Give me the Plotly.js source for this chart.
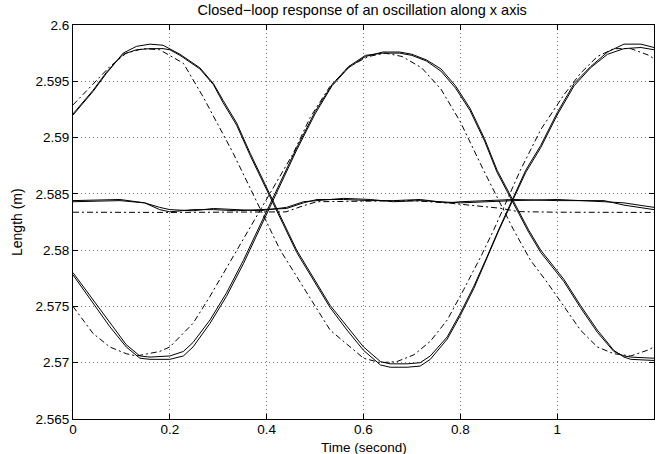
<!DOCTYPE html>
<html>
<head>
<meta charset="utf-8">
<script src="https://cdn.plot.ly/plotly-3.0.1.min.js"></script>
<style>html,body{margin:0;padding:0;background:#fff;}#chart{width:661px;height:454px;}</style>
</head>
<body>
<div id="chart"></div>
<script>
// Oscillation A (measured, two solid runs) and reference (dash-dot)
const tA = [0, 0.0414, 0.069, 0.1035, 0.131, 0.159, 0.186, 0.200, 0.221, 0.262, 0.290, 0.310, 0.338, 0.366, 0.462, 0.531, 0.566, 0.600, 0.635, 0.655, 0.690, 0.717, 0.738, 0.773, 0.800, 0.828, 0.855, 0.879, 0.935, 0.966, 1.000, 1.035, 1.069, 1.104, 1.138, 1.173, 1.200];
const vA1 = [2.5920, 2.5941, 2.5957, 2.5975, 2.5981, 2.5983, 2.5982, 2.5979, 2.5974, 2.5962, 2.5948, 2.5933, 2.5913, 2.5886, 2.5800, 2.5751, 2.5732, 2.5714, 2.5701, 2.5699, 2.5699, 2.5700, 2.5706, 2.5723, 2.5744, 2.5768, 2.5794, 2.5818, 2.5871, 2.5893, 2.5922, 2.5948, 2.5963, 2.5976, 2.5983, 2.5983, 2.5980];
const vA2 = [2.5921, 2.5942, 2.5958, 2.5974, 2.5978, 2.5979, 2.5979, 2.5978, 2.5973, 2.5961, 2.5947, 2.5931, 2.5911, 2.5884, 2.5798, 2.5749, 2.5729, 2.5711, 2.5698, 2.5696, 2.5696, 2.5697, 2.5703, 2.5721, 2.5742, 2.5766, 2.5793, 2.5817, 2.5869, 2.5891, 2.5920, 2.5946, 2.5962, 2.5974, 2.5979, 2.5980, 2.5978];
const tAd = [0, 0.0414, 0.076, 0.110, 0.145, 0.179, 0.228, 0.269, 0.331, 0.428, 0.531, 0.600, 0.635, 0.669, 0.704, 0.738, 0.773, 0.807, 0.842, 0.869, 0.924, 0.966, 1.014, 1.048, 1.083, 1.117, 1.152, 1.190, 1.200];
const vAd = [2.5929, 2.5948, 2.5963, 2.5975, 2.5979, 2.5978, 2.5966, 2.5936, 2.5886, 2.5800, 2.5729, 2.5704, 2.5700, 2.5701, 2.5707, 2.5719, 2.5738, 2.5765, 2.5794, 2.5818, 2.5871, 2.5907, 2.5938, 2.5957, 2.5972, 2.5979, 2.5979, 2.5973, 2.5970];

// Oscillation B
const tB = [0, 0.0414, 0.076, 0.110, 0.138, 0.159, 0.200, 0.228, 0.248, 0.283, 0.317, 0.352, 0.462, 0.500, 0.535, 0.569, 0.604, 0.640, 0.675, 0.700, 0.730, 0.760, 0.790, 0.820, 0.850, 0.876, 0.941, 0.966, 1.014, 1.048, 1.083, 1.117, 1.138, 1.152, 1.200];
const vB1 = [2.5778, 2.5753, 2.5732, 2.5714, 2.5704, 2.5703, 2.5703, 2.5706, 2.5714, 2.5735, 2.5759, 2.5788, 2.5889, 2.5921, 2.5946, 2.5962, 2.5972, 2.5976, 2.5976, 2.5974, 2.5969, 2.5961, 2.5946, 2.5926, 2.5899, 2.5871, 2.5818, 2.5800, 2.5774, 2.5751, 2.5729, 2.5711, 2.5705, 2.5703, 2.5702];
const vB2 = [2.5780, 2.5756, 2.5735, 2.5716, 2.5706, 2.5705, 2.5706, 2.5710, 2.5718, 2.5738, 2.5762, 2.5791, 2.5891, 2.5923, 2.5947, 2.5963, 2.5973, 2.5975, 2.5975, 2.5973, 2.5968, 2.5959, 2.5944, 2.5924, 2.5897, 2.5869, 2.5816, 2.5798, 2.5772, 2.5749, 2.5727, 2.5710, 2.5706, 2.5705, 2.5704];
const tBd = [0, 0.0414, 0.076, 0.110, 0.131, 0.179, 0.200, 0.248, 0.283, 0.338, 0.455, 0.490, 0.530, 0.570, 0.610, 0.645, 0.680, 0.720, 0.760, 0.800, 0.848, 0.910, 0.945, 0.980, 1.014, 1.048, 1.083, 1.117, 1.152, 1.186, 1.200];
const vBd = [2.5750, 2.5726, 2.5714, 2.5708, 2.5706, 2.5710, 2.5714, 2.5735, 2.5759, 2.5800, 2.5886, 2.5918, 2.5945, 2.5963, 2.5972, 2.5975, 2.5972, 2.5962, 2.5943, 2.5914, 2.5871, 2.5818, 2.5791, 2.5771, 2.5750, 2.5729, 2.5714, 2.5708, 2.5706, 2.5711, 2.5714];

// Fixed axis (near centre)
const tF = [0, 0.097, 0.148, 0.179, 0.200, 0.248, 0.290, 0.338, 0.386, 0.441, 0.476, 0.504, 0.559, 0.614, 0.662, 0.717, 0.773, 0.800, 0.910, 1.000, 1.097, 1.138, 1.200];
const vF1 = [2.5844, 2.5845, 2.5842, 2.5836, 2.5834, 2.5836, 2.5836, 2.5835, 2.5836, 2.5837, 2.5842, 2.5845, 2.5845, 2.5844, 2.5844, 2.5845, 2.5842, 2.5843, 2.5845, 2.5844, 2.5844, 2.5840, 2.5836];
const vF2 = [2.5843, 2.5844, 2.5842, 2.5838, 2.5836, 2.5835, 2.5837, 2.5836, 2.5835, 2.5838, 2.5843, 2.5844, 2.5846, 2.5845, 2.5843, 2.5844, 2.5843, 2.5842, 2.5844, 2.5845, 2.5843, 2.5842, 2.5838];
const tFd = [0, 0.2, 0.44, 0.476, 0.504, 0.6, 0.7, 0.779, 0.883, 0.92, 1.0, 1.2];
const vFd = [2.58337, 2.58335, 2.5834, 2.58395, 2.5843, 2.58437, 2.5844, 2.58417, 2.58372, 2.58342, 2.58337, 2.58335];

const xTicks = [0, 0.2, 0.4, 0.6, 0.8, 1];
const yTicks = [2.565, 2.57, 2.575, 2.58, 2.585, 2.59, 2.595, 2.6];

const titleText = 'Closed\u2212loop response of an oscillation along x axis';
const xTitle = 'Time (second)';
const yTitle = 'Length (m)';

const solid = {color: '#000', width: 1};
const dd = {color: '#000', width: 1, dash: '6px,3px,2px,3px'};
function tr(x, y, line) { return {x: x, y: y, type: 'scatter', mode: 'lines', line: line, hoverinfo: 'skip'}; }

const data = [
  tr(tA, vA1, solid), tr(tA, vA2, solid), tr(tAd, vAd, dd),
  tr(tB, vB1, solid), tr(tB, vB2, solid), tr(tBd, vBd, dd),
  tr(tF, vF1, solid), tr(tF, vF2, solid), tr(tFd, vFd, dd)
];

const fontFam = 'Liberation Sans, Arial, Helvetica, sans-serif';
const axisCommon = {
  showline: true, linecolor: '#000', linewidth: 1, mirror: 'allticks',
  ticks: 'inside', ticklen: 5, tickcolor: '#000', tickwidth: 1,
  showgrid: true, gridcolor: '#777', gridwidth: 1, griddash: '1px,3px',
  zeroline: false, tickfont: {family: fontFam, size: 13.5, color: '#000'}
};

const layout = {
  width: 661, height: 454,
  margin: {l: 73, r: 7, t: 25, b: 35},
  paper_bgcolor: '#fff', plot_bgcolor: '#fff',
  showlegend: false,
  title: {text: titleText, font: {family: fontFam, size: 14.5, color: '#000'}, x: 0.548, xanchor: 'center', y: 0.978, yanchor: 'middle'},
  xaxis: Object.assign({}, axisCommon, {
    range: [0, 1.2], tickvals: xTicks, ticktext: xTicks.map(String), ticklabelstandoff: -2
  }),
  yaxis: Object.assign({}, axisCommon, {
    range: [2.565, 2.6], tickvals: yTicks, ticktext: yTicks.map(String)
  }),
  annotations: [
    {text: xTitle, xref: 'paper', yref: 'paper', x: 0.5, y: 0, xanchor: 'center', yanchor: 'middle', yshift: -28, showarrow: false, font: {family: fontFam, size: 13.5, color: '#000'}},
    {text: yTitle, xref: 'paper', yref: 'paper', x: 0, y: 0.5, xanchor: 'center', yanchor: 'middle', xshift: -56, textangle: -90, showarrow: false, font: {family: fontFam, size: 14, color: '#000'}}
  ]
};

Plotly.newPlot('chart', data, layout, {staticPlot: true, displayModeBar: false});
</script>
</body>
</html>
